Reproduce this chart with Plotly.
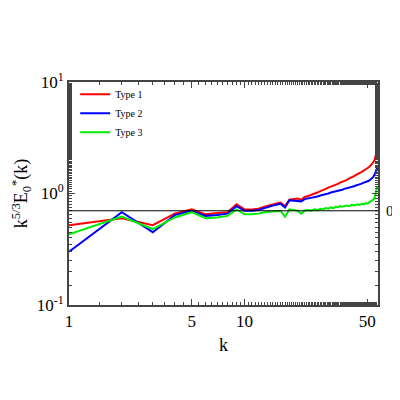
import math
import plotly.graph_objects as go

type1 = [0.52, 0.60, 0.52, 0.66, 0.72, 0.65, 0.67, 0.68, 0.80, 0.72, 0.72, 0.73, 0.76, 0.79, 0.81, 0.83, 0.77, 0.88, 0.89, 0.90,
         0.88, 0.93, 0.95, 0.97, 1.00, 1.02, 1.05, 1.07, 1.10, 1.13, 1.15, 1.18, 1.19, 1.22, 1.25, 1.27, 1.30, 1.32, 1.35, 1.37,
         1.40, 1.43, 1.46, 1.48, 1.52, 1.55, 1.58, 1.61, 1.64, 1.68, 1.72, 1.77, 1.82, 1.90, 2.00, 2.20, 2.50]
type2 = [0.30, 0.68, 0.45, 0.64, 0.70, 0.63, 0.64, 0.66, 0.77, 0.70, 0.70, 0.71, 0.74, 0.77, 0.79, 0.81, 0.75, 0.87, 0.86, 0.86,
         0.85, 0.89, 0.90, 0.91, 0.93, 0.94, 0.96, 0.97, 0.99, 1.00, 1.02, 1.03, 1.05, 1.06, 1.07, 1.08, 1.10, 1.11, 1.12, 1.14,
         1.15, 1.16, 1.18, 1.19, 1.21, 1.22, 1.24, 1.25, 1.27, 1.28, 1.30, 1.33, 1.36, 1.40, 1.48, 1.58, 1.70]
type3 = [0.43, 0.62, 0.48, 0.61, 0.68, 0.60, 0.61, 0.63, 0.72, 0.65, 0.65, 0.66, 0.68, 0.69, 0.70, 0.70, 0.62, 0.72, 0.71, 0.70,
         0.66, 0.70, 0.71, 0.70, 0.72, 0.71, 0.73, 0.72, 0.74, 0.73, 0.75, 0.74, 0.76, 0.75, 0.77, 0.76, 0.77, 0.78, 0.77, 0.78,
         0.79, 0.78, 0.79, 0.80, 0.79, 0.80, 0.81, 0.80, 0.82, 0.81, 0.83, 0.84, 0.86, 0.88, 0.92, 1.02, 1.16]
k = list(range(1, len(type1) + 1))

ref_level = 0.7
x_ticks = [1, 5, 10, 50]
y_ticks = [0.1, 1, 10]
y_ticktext = ["10<sup>-1</sup>", "10<sup>0</sup>", "10<sup>1</sup>"]

serif = "Liberation Serif"
fig = go.Figure()
for name, vals, col in [("Type 1", type1, "#ff0000"), ("Type 2", type2, "#0000ff"), ("Type 3", type3, "#00ee00")]:
    fig.add_trace(go.Scatter(x=k, y=vals, mode="lines", name=name, line=dict(color=col, width=2)))

fig.add_hline(y=ref_level, line=dict(color="black", width=1))
# log axis: annotation y is given in log10 units
fig.add_annotation(x=1.02, xref="paper", y=math.log10(ref_level), yref="y", text="0.7", showarrow=False,
                   xanchor="left", font=dict(family=serif, size=15, color="black"))

axis_common = dict(showline=True, linecolor="#444", linewidth=2, mirror="ticks", ticks="inside",
                   ticklen=6, tickcolor="#444", showgrid=False, zeroline=False,
                   tickfont=dict(family=serif, size=17, color="black"),
                   minor=dict(ticks="inside", ticklen=3, tickcolor="#444"))
fig.update_xaxes(type="log", range=[0, 1.76], tickvals=x_ticks, ticktext=[str(t) for t in x_ticks],
                 title=dict(text="k", font=dict(family=serif, size=18, color="black"), standoff=8), **axis_common)
fig.update_yaxes(type="log", range=[-1, 1], tickvals=y_ticks, ticktext=y_ticktext,
                 title=dict(text="k<sup>5/3</sup>E<sub>0</sub><sup>*</sup>(k)", font=dict(family=serif, size=18, color="black"), standoff=4),
                 **axis_common)

fig.update_layout(
    width=400, height=400,
    margin=dict(l=58, r=30, t=74, b=103),
    plot_bgcolor="white", paper_bgcolor="white",
    legend=dict(x=0.02, y=1.01, xanchor="left", yanchor="top", bgcolor="rgba(0,0,0,0)",
                font=dict(family=serif, size=10, color="black"), tracegroupgap=0, itemwidth=30),
    showlegend=True,
)

fig.write_html("out.html")
